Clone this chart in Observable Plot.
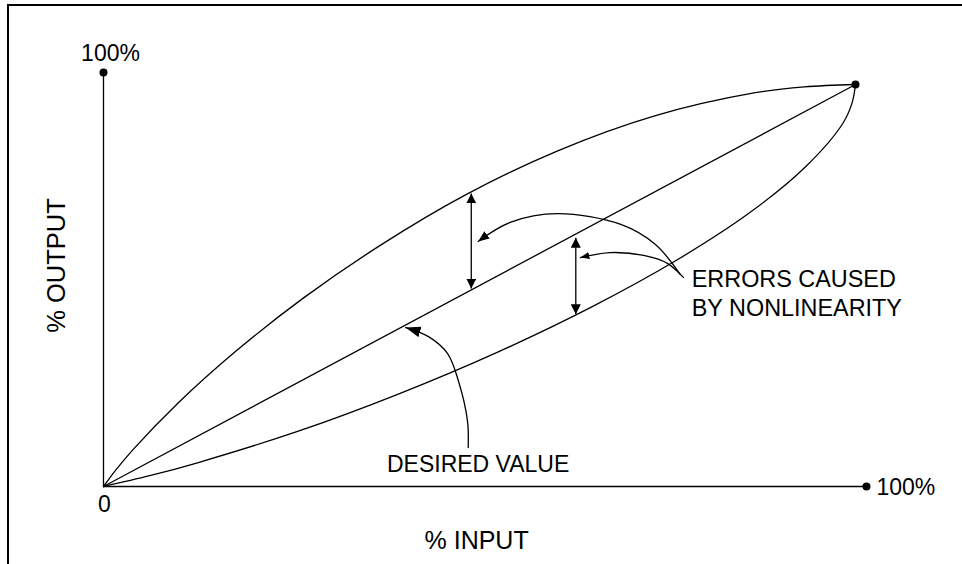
<!DOCTYPE html>
<html><head><meta charset="utf-8">
<script src="https://cdn.jsdelivr.net/npm/d3@7"></script>
<script src="https://cdn.jsdelivr.net/npm/@observablehq/plot@0.6"></script>
<style>
html,body{margin:0;padding:0;background:#fff;}
#wrap{position:relative;width:962px;height:564px;overflow:hidden;}
#chart{position:absolute;left:0;top:0;}
#frame{position:absolute;left:7px;top:4px;right:-10px;bottom:-10px;border-top:2px solid #000;border-left:2px solid #000;pointer-events:none;}
</style></head><body>
<div id="wrap"><div id="chart"></div><div id="frame"></div></div>
<script>
// % input / % output curves
const upperX = [0, 1.73, 3.96, 9.78, 17.25, 26.18, 36.37, 47.51, 59.53, 72.24, 85.25, 91.86, 98.56];
const upperY = [0, 4.25, 9.09, 20.17, 32.53, 45.5, 58.36, 70.49, 81.08, 89.53, 95.06, 96.52, 97.1];
const lowerX = [0, 6.05, 12.32, 25.43, 38.64, 51.74, 64.06, 75.2, 84.76, 92.05, 96.89, 98.09, 98.56];
const lowerY = [0, 2.6, 5.73, 13.3, 22.33, 32.53, 43.45, 54.76, 66.22, 77.29, 87.68, 92.54, 97.1];
const idealX = [0, 98.56];
const idealY = [0, 97.1];
// endpoints
const pointX = [0, 100, 98.56];
const pointY = [100, 0, 97.1];
// error arrows
const errX = [48.2, 61.9];
const errTop = [70.8, 60.1];
const errBottom = [47.8, 41.6];
// callout arrows (tail -> tip)
const calloutAX = [75.6, 72.3, 67.8, 59.5, 53.3, 49.1];
const calloutAY = [51.2, 58.5, 63.3, 65.9, 63.8, 59.2];
const calloutBX = [76.0, 73.9, 70.8, 66.4, 62.5];
const calloutBY = [50.5, 53.9, 55.8, 56.5, 55.3];
const calloutCX = [47.8, 47.7, 46.5, 45.1, 42.6, 39.6];
const calloutCY = [9.4, 15.9, 25.6, 32.1, 36.2, 38.4];
// labels
const errLabelLines = ["ERRORS CAUSED", "BY NONLINEARITY"];
const errLabelX = 77.1;
const errLabelY = [48.1, 41.3];
const desiredLabel = "DESIRED VALUE";
const desiredX = 49.1, desiredY = 3.4;
const xAxisLabel = "% INPUT", yAxisLabel = "% OUTPUT";
const zeroLabel = "0", fullLabel = "100%";

const rows = (xs, ys) => xs.map((x, i) => ({x, y: ys[i]}));
const upper = rows(upperX, upperY);
const lower = rows(lowerX, lowerY);
const ideal = rows(idealX, idealY);
const points = rows(pointX, pointY);
const errs = errX.map((x, i) => ({x, y1: errBottom[i], y2: errTop[i]}));

function head(len, wid) {
  return (color, context) => {
    const ns = "http://www.w3.org/2000/svg";
    const doc = (context && context.document) || document;
    const m = doc.createElementNS(ns, "marker");
    m.setAttribute("viewBox", `${-len} ${-wid / 2} ${len} ${wid}`);
    m.setAttribute("markerUnits", "userSpaceOnUse");
    m.setAttribute("markerWidth", len);
    m.setAttribute("markerHeight", wid);
    m.setAttribute("refX", 0);
    m.setAttribute("refY", 0);
    m.setAttribute("orient", "auto-start-reverse");
    m.setAttribute("fill", color === "currentColor" ? "black" : color);
    m.setAttribute("stroke", "none");
    const p = doc.createElementNS(ns, "path");
    p.setAttribute("d", `M0,0L${-len},${-wid / 2}L${-len},${wid / 2}Z`);
    m.appendChild(p);
    return m;
  };
}

const font = "'Liberation Sans', Arial, sans-serif";
const sw = 1.3;

const chart = Plot.plot({
  width: 962,
  height: 564,
  marginLeft: 103,
  marginRight: 96,
  marginTop: 72,
  marginBottom: 78,
  x: {domain: [0, 100], axis: null},
  y: {domain: [0, 100], axis: null},
  style: {fontFamily: font, background: "transparent", color: "black"},
  marks: [
    Plot.ruleX([0], {y1: 0, y2: 100, stroke: "black", strokeWidth: sw}),
    Plot.ruleY([0], {x1: 0, x2: 100, stroke: "black", strokeWidth: sw}),
    Plot.line(upper, {x: "x", y: "y", curve: "catmull-rom", stroke: "black", strokeWidth: sw}),
    Plot.line(ideal, {x: "x", y: "y", stroke: "black", strokeWidth: sw}),
    Plot.line(lower, {x: "x", y: "y", curve: "catmull-rom", stroke: "black", strokeWidth: sw}),
    Plot.link(errs, {x1: "x", x2: "x", y1: "y1", y2: "y2", stroke: "black", strokeWidth: sw,
      markerStart: head(10, 10), markerEnd: head(10, 10)}),
    Plot.line(rows(calloutAX, calloutAY), {x: "x", y: "y", curve: "catmull-rom", stroke: "black", strokeWidth: sw, markerEnd: head(11, 9)}),
    Plot.line(rows(calloutBX, calloutBY), {x: "x", y: "y", curve: "catmull-rom", stroke: "black", strokeWidth: sw, markerEnd: head(9, 7)}),
    Plot.line(rows(calloutCX, calloutCY), {x: "x", y: "y", curve: "catmull-rom", stroke: "black", strokeWidth: sw, markerEnd: head(15, 11)}),
    Plot.dot(points, {x: "x", y: "y", r: 4, fill: "black", stroke: null}),
    Plot.text([fullLabel], {x: 0, y: 100, dx: 7, dy: -12, lineAnchor: "bottom", textAnchor: "middle", fontSize: 23, fill: "black"}),
    Plot.text([fullLabel], {x: 100, y: 0, dx: 10, dy: 8, lineAnchor: "bottom", textAnchor: "start", fontSize: 23, fill: "black"}),
    Plot.text([zeroLabel], {x: 0, y: 0, dx: 1, dy: 25, lineAnchor: "bottom", textAnchor: "middle", fontSize: 23, fill: "black"}),
    Plot.text([xAxisLabel], {x: 48.9, y: 0, dy: 62, lineAnchor: "bottom", textAnchor: "middle", fontSize: 25, fill: "black"}),
    Plot.text([yAxisLabel], {x: 0, y: 53.4, dx: -39, rotate: -90, lineAnchor: "bottom", textAnchor: "middle", fontSize: 25.5, fill: "black"}),
    Plot.text(errLabelLines, {x: errLabelX, y: (d, i) => errLabelY[i], text: d => d, lineAnchor: "bottom", textAnchor: "start", fontSize: 23.4, fill: "black"}),
    Plot.text([desiredLabel], {x: desiredX, y: desiredY, lineAnchor: "bottom", textAnchor: "middle", fontSize: 23, fill: "black"})
  ]
});
document.getElementById("chart").appendChild(chart);
</script>
</body></html>
